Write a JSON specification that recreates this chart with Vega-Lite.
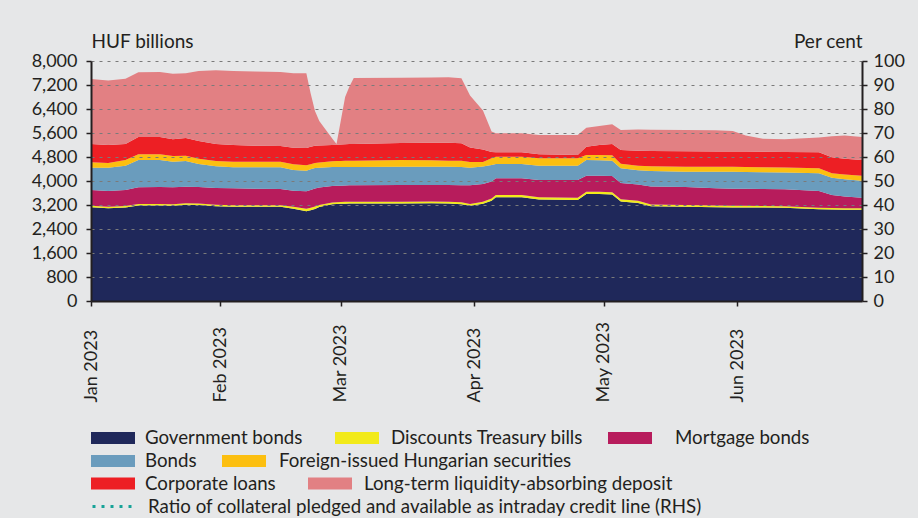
{
  "$schema": "https://vega.github.io/schema/vega-lite/v6.json",
  "width": 771,
  "height": 240,
  "autosize": {"type": "none"},
  "padding": {"left": 91, "top": 61, "right": 56, "bottom": 217},
  "background": "#e6e7e8",
  "config": {
    "view": {"stroke": null},
    "font": "Lato",
    "axis": {
      "labelFont": "Lato",
      "labelColor": "#231f20",
      "titleFont": "Lato",
      "titleColor": "#231f20",
      "titleFontWeight": "normal",
      "domainColor": "#231f20",
      "tickColor": "#231f20",
      "domainWidth": 2,
      "tickWidth": 1.5,
      "tickSize": 5
    },
    "legend": {
      "orient": "none",
      "direction": "horizontal",
      "padding": 0,
      "labelFont": "Lato",
      "labelFontSize": 18.7,
      "labelColor": "#231f20",
      "labelLimit": 1000,
      "labelOffset": 10,
      "symbolType": "M-1,-0.273H1V0.273H-1Z",
      "symbolSize": 1936,
      "symbolStrokeWidth": 0,
      "symbolOpacity": 1,
      "title": null
    }
  },
  "datasets": {
    "holdings": [
      {"date": "2023-01-02", "gov": 3128, "dtb": 50, "mort": 522, "bonds": 744, "forg": 178, "corp": 611, "lt": 2167},
      {"date": "2023-01-06", "gov": 3094, "dtb": 50, "mort": 523, "bonds": 777, "forg": 156, "corp": 600, "lt": 2150},
      {"date": "2023-01-10", "gov": 3117, "dtb": 50, "mort": 533, "bonds": 811, "forg": 189, "corp": 533, "lt": 2178},
      {"date": "2023-01-13", "gov": 3183, "dtb": 50, "mort": 556, "bonds": 911, "forg": 189, "corp": 578, "lt": 2155},
      {"date": "2023-01-18", "gov": 3183, "dtb": 50, "mort": 567, "bonds": 900, "forg": 189, "corp": 578, "lt": 2166},
      {"date": "2023-01-21", "gov": 3172, "dtb": 50, "mort": 567, "bonds": 855, "forg": 189, "corp": 556, "lt": 2189},
      {"date": "2023-01-24", "gov": 3206, "dtb": 50, "mort": 555, "bonds": 856, "forg": 177, "corp": 589, "lt": 2157},
      {"date": "2023-01-27", "gov": 3200, "dtb": 50, "mort": 550, "bonds": 767, "forg": 177, "corp": 589, "lt": 2334},
      {"date": "2023-01-31", "gov": 3161, "dtb": 50, "mort": 556, "bonds": 722, "forg": 178, "corp": 566, "lt": 2456},
      {"date": "2023-02-04", "gov": 3139, "dtb": 50, "mort": 567, "bonds": 700, "forg": 188, "corp": 556, "lt": 2467},
      {"date": "2023-02-09", "gov": 3139, "dtb": 50, "mort": 556, "bonds": 711, "forg": 188, "corp": 534, "lt": 2472},
      {"date": "2023-02-15", "gov": 3139, "dtb": 50, "mort": 544, "bonds": 723, "forg": 188, "corp": 523, "lt": 2466},
      {"date": "2023-02-18", "gov": 3074, "dtb": 70, "mort": 534, "bonds": 689, "forg": 189, "corp": 555, "lt": 2478},
      {"date": "2023-02-21", "gov": 2988, "dtb": 90, "mort": 578, "bonds": 688, "forg": 178, "corp": 578, "lt": 2489},
      {"date": "2023-02-22", "gov": 3025, "dtb": 85, "mort": 590, "bonds": 690, "forg": 170, "corp": 580, "lt": 1780},
      {"date": "2023-02-23", "gov": 3070, "dtb": 80, "mort": 600, "bonds": 680, "forg": 170, "corp": 575, "lt": 1155},
      {"date": "2023-02-24", "gov": 3130, "dtb": 70, "mort": 580, "bonds": 665, "forg": 170, "corp": 570, "lt": 815},
      {"date": "2023-02-27", "gov": 3225, "dtb": 60, "mort": 545, "bonds": 637, "forg": 188, "corp": 545, "lt": 220},
      {"date": "2023-02-28", "gov": 3235, "dtb": 60, "mort": 545, "bonds": 627, "forg": 198, "corp": 545, "lt": 20},
      {"date": "2023-03-01", "gov": 3240, "dtb": 60, "mort": 545, "bonds": 622, "forg": 203, "corp": 550, "lt": 800},
      {"date": "2023-03-02", "gov": 3245, "dtb": 60, "mort": 545, "bonds": 617, "forg": 208, "corp": 550, "lt": 1575},
      {"date": "2023-03-03", "gov": 3250, "dtb": 60, "mort": 545, "bonds": 612, "forg": 211, "corp": 552, "lt": 1920},
      {"date": "2023-03-04", "gov": 3251, "dtb": 60, "mort": 545, "bonds": 611, "forg": 211, "corp": 555, "lt": 2197},
      {"date": "2023-03-15", "gov": 3251, "dtb": 60, "mort": 556, "bonds": 611, "forg": 222, "corp": 567, "lt": 2177},
      {"date": "2023-03-22", "gov": 3258, "dtb": 60, "mort": 549, "bonds": 611, "forg": 217, "corp": 583, "lt": 2172},
      {"date": "2023-03-26", "gov": 3251, "dtb": 60, "mort": 556, "bonds": 611, "forg": 200, "corp": 600, "lt": 2178},
      {"date": "2023-03-29", "gov": 3229, "dtb": 60, "mort": 571, "bonds": 610, "forg": 208, "corp": 582, "lt": 2162},
      {"date": "2023-03-31", "gov": 3173, "dtb": 60, "mort": 623, "bonds": 588, "forg": 186, "corp": 490, "lt": 1730},
      {"date": "2023-04-03", "gov": 3240, "dtb": 70, "mort": 590, "bonds": 580, "forg": 150, "corp": 420, "lt": 1300},
      {"date": "2023-04-05", "gov": 3345, "dtb": 75, "mort": 560, "bonds": 550, "forg": 230, "corp": 210, "lt": 680},
      {"date": "2023-04-06", "gov": 3458, "dtb": 75, "mort": 556, "bonds": 478, "forg": 244, "corp": 145, "lt": 633},
      {"date": "2023-04-12", "gov": 3458, "dtb": 75, "mort": 556, "bonds": 478, "forg": 244, "corp": 145, "lt": 633},
      {"date": "2023-04-16", "gov": 3381, "dtb": 75, "mort": 577, "bonds": 478, "forg": 245, "corp": 133, "lt": 644},
      {"date": "2023-04-25", "gov": 3369, "dtb": 75, "mort": 589, "bonds": 478, "forg": 245, "corp": 111, "lt": 666},
      {"date": "2023-04-27", "gov": 3569, "dtb": 75, "mort": 534, "bonds": 522, "forg": 167, "corp": 277, "lt": 634},
      {"date": "2023-04-30", "gov": 3565, "dtb": 75, "mort": 538, "bonds": 512, "forg": 177, "corp": 333, "lt": 633},
      {"date": "2023-05-03", "gov": 3547, "dtb": 75, "mort": 548, "bonds": 508, "forg": 182, "corp": 373, "lt": 656},
      {"date": "2023-05-05", "gov": 3314, "dtb": 75, "mort": 544, "bonds": 489, "forg": 153, "corp": 458, "lt": 667},
      {"date": "2023-05-09", "gov": 3270, "dtb": 70, "mort": 540, "bonds": 475, "forg": 155, "corp": 501, "lt": 709},
      {"date": "2023-05-12", "gov": 3155, "dtb": 65, "mort": 600, "bonds": 510, "forg": 160, "corp": 510, "lt": 711},
      {"date": "2023-05-20", "gov": 3140, "dtb": 60, "mort": 600, "bonds": 511, "forg": 167, "corp": 511, "lt": 711},
      {"date": "2023-05-27", "gov": 3125, "dtb": 55, "mort": 580, "bonds": 551, "forg": 167, "corp": 502, "lt": 710},
      {"date": "2023-05-31", "gov": 3120, "dtb": 55, "mort": 570, "bonds": 560, "forg": 170, "corp": 505, "lt": 690},
      {"date": "2023-06-03", "gov": 3117, "dtb": 55, "mort": 568, "bonds": 560, "forg": 170, "corp": 515, "lt": 535},
      {"date": "2023-06-07", "gov": 3115, "dtb": 55, "mort": 565, "bonds": 555, "forg": 170, "corp": 515, "lt": 435},
      {"date": "2023-06-12", "gov": 3105, "dtb": 55, "mort": 565, "bonds": 555, "forg": 170, "corp": 520, "lt": 425},
      {"date": "2023-06-20", "gov": 3061, "dtb": 50, "mort": 556, "bonds": 589, "forg": 166, "corp": 534, "lt": 494},
      {"date": "2023-06-23", "gov": 3050, "dtb": 50, "mort": 433, "bonds": 578, "forg": 145, "corp": 533, "lt": 701},
      {"date": "2023-06-26", "gov": 3045, "dtb": 50, "mort": 385, "bonds": 580, "forg": 155, "corp": 525, "lt": 780},
      {"date": "2023-06-30", "gov": 3039, "dtb": 50, "mort": 355, "bonds": 567, "forg": 167, "corp": 522, "lt": 767}
    ],
    "seriesInfo": [
      {"key": "gov", "label": "Government bonds", "order": 1},
      {"key": "dtb", "label": "Discounts Treasury bills", "order": 2},
      {"key": "mort", "label": "Mortgage bonds", "order": 3},
      {"key": "bonds", "label": "Bonds", "order": 4},
      {"key": "forg", "label": "Foreign-issued Hungarian securities", "order": 5},
      {"key": "corp", "label": "Corporate loans", "order": 6},
      {"key": "lt", "label": "Long-term liquidity-absorbing deposit", "order": 7}
    ]
  },
  "layer": [
    {
      "data": {"name": "holdings"},
      "transform": [
        {"fold": ["gov", "dtb", "mort", "bonds", "forg", "corp", "lt"], "as": ["key", "value"]},
        {"lookup": "key", "from": {"data": {"name": "seriesInfo"}, "key": "key", "fields": ["label", "order"]}},
        {"stack": "value", "groupby": ["date"], "sort": [{"field": "order", "order": "ascending"}], "as": ["v0", "v1"]}
      ],
      "encoding": {
        "x": {
          "field": "date",
          "type": "temporal",
          "scale": {
            "type": "utc",
            "domain": [{"year": 2023, "month": 1, "date": 2, "utc": true}, {"year": 2023, "month": 6, "date": 30, "utc": true}]
          },
          "axis": {
            "title": null,
            "grid": false,
            "labelExpr": "utcFormat(datum.value, '%b %Y')",
            "values": [
              {"year": 2023, "month": 1, "date": 2, "utc": true},
              {"year": 2023, "month": 2, "date": 1, "utc": true},
              {"year": 2023, "month": 3, "date": 1, "utc": true},
              {"year": 2023, "month": 4, "date": 1, "utc": true},
              {"year": 2023, "month": 5, "date": 1, "utc": true},
              {"year": 2023, "month": 6, "date": 1, "utc": true}
            ],
            "labelAngle": 270,
            "labelAlign": "left",
            "labelBaseline": "middle",
            "labelFont": "Lato",
            "labelFontSize": 18,
            "labelPadding": 96,
            "labelFlush": false,
            "labelOverlap": false,
            "zindex": 1
          }
        },
        "y": {
          "field": "v1",
          "type": "quantitative",
          "scale": {"domain": [0, 8000], "nice": false},
          "axis": {
            "orient": "left",
            "values": [0, 800, 1600, 2400, 3200, 4000, 4800, 5600, 6400, 7200, 8000],
            "labelExpr": "format(datum.value, ',')",
            "grid": true,
            "gridColor": "#7a7a7a",
            "gridDash": [3, 5],
            "gridWidth": 1,
            "zindex": 1,
            "labelFontSize": 18,
            "labelPadding": 9,
            "title": "HUF billions",
            "titleAngle": 0,
            "titleAlign": "left",
            "titleBaseline": "alphabetic",
            "titleX": 0,
            "titleY": -14,
            "titleFontSize": 19
          }
        },
        "y2": {"field": "v0"}
      },
      "layer": [
        {
          "transform": [{"filter": {"field": "key", "equal": "gov"}}],
          "mark": {"type": "area", "opacity": 1},
          "encoding": {
            "color": {"field": "label", "type": "nominal", "scale": {"range": ["#1f285a"]}, "legend": {"legendX": 0, "legendY": 355, "labelOffset": 10}}
          }
        },
        {
          "transform": [{"filter": {"field": "key", "equal": "dtb"}}],
          "mark": {"type": "area", "opacity": 1},
          "encoding": {
            "color": {"field": "label", "type": "nominal", "scale": {"range": ["#f2ea1a"]}, "legend": {"legendX": 244, "legendY": 355, "labelOffset": 12}}
          }
        },
        {
          "transform": [{"filter": {"field": "key", "equal": "mort"}}],
          "mark": {"type": "area", "opacity": 1},
          "encoding": {
            "color": {"field": "label", "type": "nominal", "scale": {"range": ["#b71c5c"]}, "legend": {"legendX": 517, "legendY": 355, "labelOffset": 23}}
          }
        },
        {
          "transform": [{"filter": {"field": "key", "equal": "bonds"}}],
          "mark": {"type": "area", "opacity": 1},
          "encoding": {
            "color": {"field": "label", "type": "nominal", "scale": {"range": ["#6a9cbd"]}, "legend": {"legendX": 0, "legendY": 378, "labelOffset": 10}}
          }
        },
        {
          "transform": [{"filter": {"field": "key", "equal": "forg"}}],
          "mark": {"type": "area", "opacity": 1},
          "encoding": {
            "color": {"field": "label", "type": "nominal", "scale": {"range": ["#fcbf10"]}, "legend": {"legendX": 131, "legendY": 378, "labelOffset": 13}}
          }
        },
        {
          "transform": [{"filter": {"field": "key", "equal": "corp"}}],
          "mark": {"type": "area", "opacity": 1},
          "encoding": {
            "color": {"field": "label", "type": "nominal", "scale": {"range": ["#ed1f24"]}, "legend": {"legendX": 0, "legendY": 400.5, "labelOffset": 10}}
          }
        },
        {
          "transform": [{"filter": {"field": "key", "equal": "lt"}}],
          "mark": {"type": "area", "opacity": 1},
          "encoding": {
            "color": {"field": "label", "type": "nominal", "scale": {"range": ["#e28083"]}, "legend": {"legendX": 217, "legendY": 400.5, "labelOffset": 12}}
          }
        }
      ],
      "resolve": {"scale": {"color": "independent"}}
    },
    {
      "data": {"values": []},
      "mark": {"type": "line", "strokeDash": [3, 6], "strokeWidth": 3},
      "encoding": {
        "y": {
          "field": "ratio",
          "type": "quantitative",
          "scale": {"domain": [0, 100], "nice": false},
          "axis": {
            "orient": "right",
            "values": [0, 10, 20, 30, 40, 50, 60, 70, 80, 90, 100],
            "labelExpr": "format(datum.value, 'd')",
            "grid": false,
            "labelFontSize": 18,
            "labelPadding": 6,
            "zindex": 1,
            "title": "Per cent",
            "titleAngle": 0,
            "titleAlign": "right",
            "titleBaseline": "alphabetic",
            "titleX": 0,
            "titleY": -14,
            "titleFontSize": 19
          }
        },
        "color": {
          "datum": "Ratio of collateral pledged and available as intraday credit line (RHS)",
          "scale": {"range": ["#17a398"]},
          "legend": {"legendX": 0, "legendY": 422, "labelOffset": 10, "symbolType": "stroke", "symbolStrokeWidth": 3, "symbolDash": [3, 6]}
        }
      }
    }
  ],
  "resolve": {"scale": {"y": "independent", "color": "independent"}}
}
